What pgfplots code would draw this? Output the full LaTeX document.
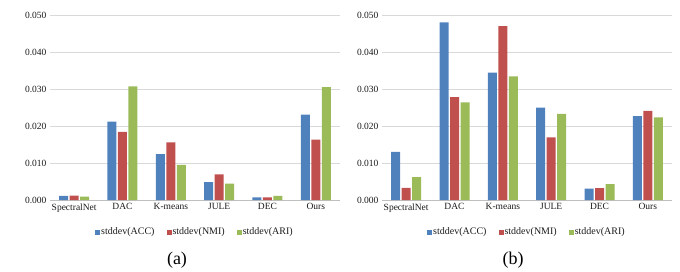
\documentclass[border=0pt]{standalone}
\usepackage{fontspec}
\setmainfont{Liberation Serif}
\usepackage{pgfplots}
\pgfplotsset{compat=1.18}
\definecolor{cA}{HTML}{4F81BD}
\definecolor{cN}{HTML}{C0504D}
\definecolor{cR}{HTML}{9BBB59}
\definecolor{gridc}{HTML}{D9D9D9}
\definecolor{axc}{HTML}{BFBFBF}
\definecolor{txt}{HTML}{1A1A1A}
\pgfplotsset{mystyle/.style={
  scale only axis, width=290pt, height=185pt,
  ybar=1.5pt, bar width=9pt,
  xmin=-0.5, xmax=5.5, ymin=0, ymax=0.05,
  xtick={0,1,2,3,4,5},
  xticklabels={SpectralNet,DAC,K-means,JULE,DEC,Ours},
  ytick={0,0.01,0.02,0.03,0.04,0.05},
  scaled ticks=false,
  yticklabel style={/pgf/number format/.cd, fixed, fixed zerofill, precision=3, assume math mode=true},
  ticklabel style={font=\fontsize{9.5}{11}\selectfont, text=txt},
  major tick length=0pt,
  separate axis lines,
  axis x line*=bottom, axis y line*=left,
  x axis line style={draw=axc, line width=0.8pt, -},
  y axis line style={draw=none},
  ymajorgrids, grid style={draw=gridc, line width=0.8pt},
  legend columns=3,
  legend style={draw=none, fill=none, at={(0.5,-0.173)}, anchor=center,
    font=\fontsize{10}{12}\selectfont, text=txt,
    /tikz/every odd column/.append style={column sep=-1pt},
    /tikz/every even column/.append style={column sep=10pt}},
  legend image code/.code={\fill[##1] (0pt,-2.5pt) rectangle (5pt,2.5pt);},
  every axis plot/.append style={draw=none},
}}
\begin{document}
\begin{tikzpicture}
\path (0,0) rectangle (680pt,-268pt);
\begin{axis}[mystyle, at={(50pt,-200pt)}, anchor=south west]
\addplot[fill=cA] coordinates {(0,0.0011) (1,0.0212) (2,0.0124) (3,0.0048) (4,0.0007) (5,0.0231)};
\addplot[fill=cN] coordinates {(0,0.0012) (1,0.0184) (2,0.0156) (3,0.0069) (4,0.0007) (5,0.0163)};
\addplot[fill=cR] coordinates {(0,0.0009) (1,0.0307) (2,0.0095) (3,0.0044) (4,0.0011) (5,0.0305)};
\legend{stddev(ACC),stddev(NMI),stddev(ARI)}
\end{axis}
\begin{axis}[mystyle, at={(382pt,-200pt)}, anchor=south west]
\addplot[fill=cA] coordinates {(0,0.0130) (1,0.0480) (2,0.0344) (3,0.0250) (4,0.0031) (5,0.0227)};
\addplot[fill=cN] coordinates {(0,0.0033) (1,0.0278) (2,0.0470) (3,0.0169) (4,0.0032) (5,0.0241)};
\addplot[fill=cR] coordinates {(0,0.0062) (1,0.0264) (2,0.0334) (3,0.0233) (4,0.0043) (5,0.0223)};
\legend{stddev(ACC),stddev(NMI),stddev(ARI)}
\end{axis}
\node[font=\fontsize{18}{20}\selectfont] at (177pt,-260pt) {(a)};
\node[font=\fontsize{18}{20}\selectfont] at (513pt,-260pt) {(b)};
\end{tikzpicture}
\end{document}
